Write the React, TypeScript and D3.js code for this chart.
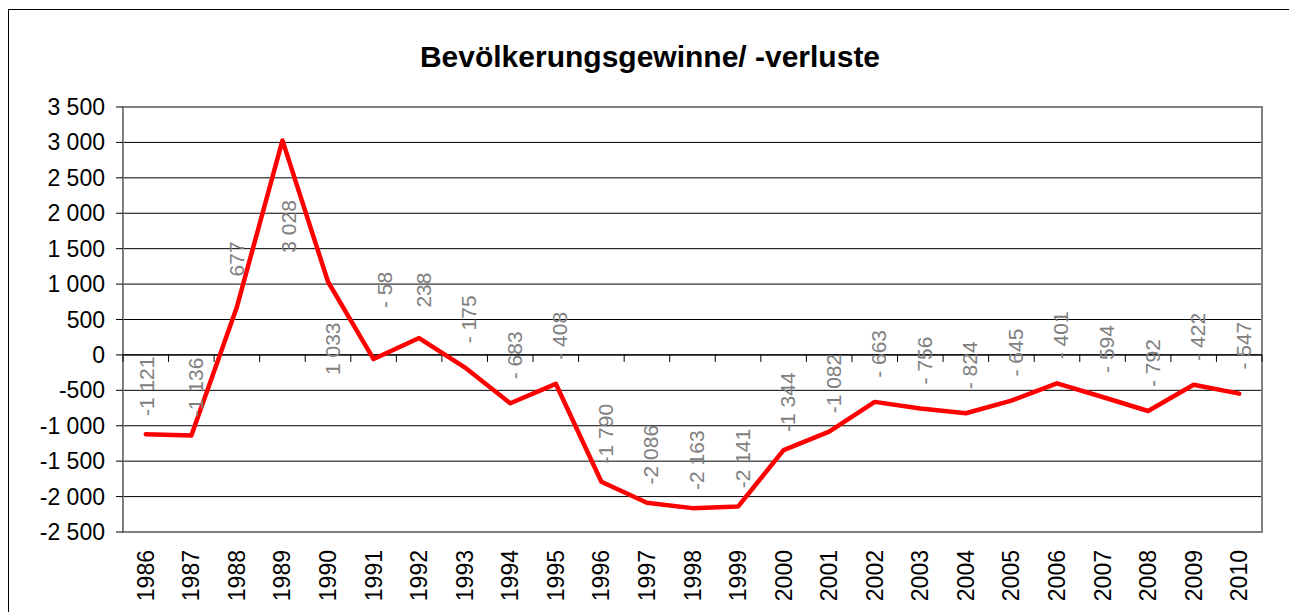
import * as d3 from "d3";
import React from "react";

const years = [
  "1986", "1987", "1988", "1989", "1990", "1991", "1992", "1993", "1994",
  "1995", "1996", "1997", "1998", "1999", "2000", "2001", "2002", "2003",
  "2004", "2005", "2006", "2007", "2008", "2009", "2010",
];
const changes = [
  -1121, -1136, 677, 3028, 1033, -58, 238, -175, -683, -408, -1790, -2086,
  -2163, -2141, -1344, -1082, -663, -756, -824, -645, -401, -594, -792, -422,
  -547,
];
const yTicks = [-2500, -2000, -1500, -1000, -500, 0, 500, 1000, 1500, 2000, 2500, 3000, 3500];
const title = "Bevölkerungsgewinne/ -verluste";

// labels that were dragged away from the default "above" spot in the original
const labelNudge: Record<string, [number, number]> = {
  "1986": [1, -48],
  "1988": [0, -48],
  "1989": [6, 86],
  "1990": [4, 67],
  "1991": [11, -69],
};

const FONT = "Arial, 'Liberation Sans', Helvetica, sans-serif";

const locale = d3.formatLocale({
  decimal: ",",
  thousands: "\u00a0",
  grouping: [3],
  currency: ["", ""],
  minus: "-",
});
const fmt = locale.format(",d");

const labelText = (v: number) => {
  if (v >= 0) return fmt(v);
  if (v > -1000) return "- " + fmt(-v);
  return "-" + fmt(-v);
};

const App: React.FC = () => {
  const width = 1289;
  const height = 612;
  const plot = { left: 123, right: 1262, top: 107, bottom: 532 };

  const x = d3
    .scaleBand<string>()
    .domain(years)
    .range([plot.left, plot.right])
    .padding(0);
  const y = d3.scaleLinear().domain([-2500, 3500]).range([plot.bottom, plot.top]);

  const cx = (yr: string) => (x(yr) as number) + x.bandwidth() / 2;

  const line = d3
    .line<number>()
    .x((_, i) => cx(years[i]))
    .y((d) => y(d));

  const boundaries = years.map((yr) => x(yr) as number).concat([plot.right]);

  return (
    <svg
      width={width}
      height={height}
      style={{ position: "absolute", left: 0, top: 0, background: "#fff" }}
      fontFamily={FONT}
    >
      <rect x={8.5} y={9.5} width={1400} height={800} fill="#fff" stroke="#000" strokeWidth={1} />

      <text x={650} y={67} textAnchor="middle" fontSize={30} fontWeight="bold" fill="#000">
        {title}
      </text>

      {/* gridlines */}
      {yTicks.map((t) => (
        <line
          key={"g" + t}
          x1={plot.left}
          x2={plot.right}
          y1={y(t)}
          y2={y(t)}
          stroke="#000"
          strokeWidth={1}
        />
      ))}

      {/* plot area frame */}
      <rect
        x={plot.left}
        y={plot.top}
        width={plot.right - plot.left}
        height={plot.bottom - plot.top}
        fill="none"
        stroke="#808080"
        strokeWidth={2}
      />

      {/* y axis ticks and labels */}
      {yTicks.map((t) => (
        <g key={"y" + t}>
          <line x1={116} x2={plot.left} y1={y(t)} y2={y(t)} stroke="#000" strokeWidth={1} />
          <text
            x={105}
            y={y(t)}
            textAnchor="end"
            dominantBaseline="central"
            fontSize={23}
            fill="#000"
          >
            {t < 0 ? "-" + fmt(-t) : fmt(t)}
          </text>
        </g>
      ))}

      {/* category axis at zero */}
      <line x1={plot.left} x2={plot.right} y1={y(0)} y2={y(0)} stroke="#000" strokeWidth={1.2} />
      {boundaries.map((bx, i) => (
        <line key={"xt" + i} x1={bx} x2={bx} y1={y(0)} y2={y(0) + 7} stroke="#000" strokeWidth={1} />
      ))}

      {/* category labels */}
      {years.map((yr) => (
        <text
          key={"xl" + yr}
          transform={`translate(${cx(yr)},${plot.bottom + 18}) rotate(-90)`}
          textAnchor="end"
          dominantBaseline="central"
          fontSize={23}
          fill="#000"
        >
          {yr}
        </text>
      ))}

      {/* series */}
      <path
        d={line(changes) || ""}
        fill="none"
        stroke="#ff0000"
        strokeWidth={4.5}
        strokeLinejoin="round"
        strokeLinecap="round"
      />

      {/* data labels */}
      {changes.map((v, i) => {
        const [dx, dy] = labelNudge[years[i]] || [4, -48];
        return (
          <text
            key={"dl" + i}
            transform={`translate(${cx(years[i]) + dx},${y(v) + dy}) rotate(-90)`}
            textAnchor="middle"
            dominantBaseline="central"
            fontSize={21}
            fill="#808080"
          >
            {labelText(v)}
          </text>
        );
      })}
    </svg>
  );
};

export default App;
